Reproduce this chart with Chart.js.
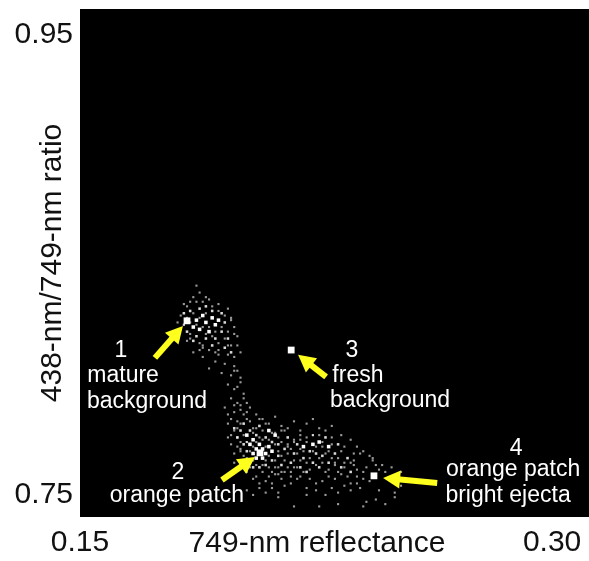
<!DOCTYPE html>
<html>
<head>
<meta charset="utf-8">
<style>
  html, body { margin: 0; padding: 0; background: #fff; }
  canvas { display: block; }
</style>
</head>
<body>
<canvas id="chart" width="589" height="561"></canvas>
<script src="https://cdn.jsdelivr.net/npm/chart.js@4/dist/chart.umd.min.js"></script>
<script>
// axis values
const xTickValues = [0.15, 0.30];
const yTickValues = [0.75, 0.95];

// four labelled spots
const spotX = [0.1840, 0.2072, 0.2171, 0.2434];
const spotY = [0.8257, 0.7683, 0.8130, 0.7583];

// brightest bins
const brightX = [0.187,0.189,0.190,0.192,0.186,0.188,0.191,0.193,0.194,0.207,0.206,0.208,0.205,0.209,0.208,0.206,0.210,0.204,0.211,0.205,0.203,0.212,0.210,0.221,0.224,0.226,0.229];
const brightY = [0.826,0.828,0.825,0.827,0.823,0.822,0.821,0.824,0.826,0.772,0.770,0.770,0.768,0.768,0.766,0.766,0.771,0.772,0.769,0.774,0.776,0.776,0.778,0.771,0.772,0.773,0.771];

// medium bins
const midX = [0.183,0.185,0.188,0.190,0.192,0.195,0.196,0.184,0.187,0.190,0.193,0.195,0.197,0.186,0.192,0.196,0.198,0.199,0.200,0.201,0.202,0.202,0.203,0.204,0.204,0.205,0.206,0.207,0.207,0.209,0.209,0.211,0.211,0.213,0.213,0.214,0.215,0.216,0.217,0.218,0.219,0.220,0.221,0.222,0.223,0.224,0.225,0.226,0.227,0.228,0.229,0.231,0.232,0.233,0.235,0.236];
const midY = [0.829,0.830,0.831,0.832,0.830,0.829,0.825,0.821,0.819,0.818,0.818,0.821,0.818,0.817,0.815,0.814,0.812,0.779,0.775,0.778,0.772,0.781,0.769,0.765,0.778,0.762,0.776,0.762,0.780,0.763,0.775,0.765,0.773,0.767,0.772,0.763,0.770,0.775,0.764,0.768,0.772,0.762,0.766,0.760,0.769,0.764,0.768,0.762,0.767,0.775,0.764,0.768,0.772,0.762,0.766,0.760];

// faint bins
const dimX = [0.187,0.188,0.186,0.190,0.185,0.189,0.183,0.184,0.187,0.191,0.194,0.182,0.181,0.183,0.185,0.189,0.193,0.197,0.198,0.199,0.200,0.182,0.184,0.188,0.191,0.194,0.197,0.199,0.186,0.189,0.193,0.196,0.199,0.201,0.191,0.195,0.198,0.200,0.197,0.199,0.201,0.198,0.200,0.202,0.196,0.199,0.201,0.203,0.198,0.200,0.202,0.204,0.199,0.201,0.203,0.197,0.200,0.202,0.204,0.206,0.198,0.199,0.201,0.203,0.205,0.207,0.209,0.197,0.200,0.202,0.204,0.206,0.208,0.210,0.212,0.214,0.199,0.201,0.203,0.205,0.207,0.209,0.211,0.213,0.215,0.217,0.203,0.205,0.207,0.209,0.211,0.213,0.215,0.217,0.219,0.208,0.210,0.212,0.214,0.216,0.218,0.220,0.222,0.224,0.212,0.214,0.216,0.218,0.220,0.222,0.224,0.226,0.228,0.230,0.218,0.220,0.223,0.225,0.227,0.229,0.231,0.233,0.235,0.237,0.222,0.225,0.228,0.230,0.232,0.234,0.236,0.238,0.240,0.227,0.230,0.233,0.236,0.238,0.240,0.242,0.244,0.231,0.234,0.237,0.239,0.241,0.243,0.245,0.247,0.236,0.239,0.242,0.245,0.248,0.250,0.252,0.238,0.241,0.244,0.247,0.250,0.240,0.246,0.249,0.252,0.222,0.226,0.232,0.218,0.213];
const dimY = [0.841,0.838,0.836,0.836,0.834,0.834,0.833,0.832,0.834,0.835,0.833,0.828,0.825,0.824,0.820,0.815,0.812,0.831,0.827,0.823,0.819,0.822,0.817,0.813,0.813,0.811,0.815,0.810,0.812,0.810,0.808,0.807,0.806,0.812,0.805,0.803,0.802,0.804,0.798,0.796,0.799,0.792,0.790,0.794,0.788,0.786,0.787,0.790,0.783,0.782,0.785,0.788,0.778,0.781,0.783,0.781,0.775,0.776,0.782,0.785,0.772,0.768,0.770,0.773,0.779,0.783,0.781,0.775,0.771,0.767,0.762,0.758,0.760,0.758,0.762,0.757,0.764,0.762,0.760,0.757,0.755,0.756,0.755,0.759,0.760,0.758,0.752,0.750,0.753,0.751,0.753,0.751,0.754,0.755,0.757,0.783,0.781,0.784,0.780,0.779,0.782,0.778,0.781,0.783,0.777,0.778,0.771,0.774,0.776,0.775,0.776,0.779,0.778,0.780,0.762,0.758,0.757,0.755,0.756,0.758,0.757,0.759,0.758,0.763,0.753,0.752,0.750,0.753,0.751,0.754,0.752,0.755,0.757,0.773,0.775,0.776,0.774,0.771,0.769,0.767,0.763,0.764,0.762,0.765,0.768,0.762,0.765,0.761,0.760,0.755,0.753,0.756,0.752,0.757,0.751,0.760,0.758,0.747,0.748,0.746,0.749,0.745,0.763,0.762,0.754,0.750,0.745,0.746,0.745,0.749,0.748];

// more bins in the dense part of both clusters
const fillX = [0.184,0.186,0.188,0.190,0.192,0.194,0.196,0.198,0.183,0.185,0.187,0.189,0.191,0.193,0.195,0.197,0.199,0.185,0.188,0.190,0.192,0.194,0.196,0.198,0.200,0.189,0.194,0.197,0.199,0.201,0.200,0.202,0.201,0.203,0.197,0.199,0.198,0.200,0.201,0.201,0.203,0.203,0.204,0.205,0.205,0.205,0.206,0.206,0.206,0.207,0.207,0.208,0.208,0.208,0.209,0.209,0.210,0.210,0.210,0.211,0.211,0.212,0.212,0.212,0.213,0.213,0.213,0.214,0.214,0.214,0.215,0.215,0.216,0.216,0.216,0.217,0.217,0.218,0.218,0.219,0.219,0.220,0.220,0.220,0.221,0.221,0.222,0.222,0.223,0.223,0.224,0.224,0.225,0.225,0.226,0.226,0.227,0.227,0.228,0.228,0.229,0.229,0.230,0.230,0.231,0.232,0.232,0.233,0.234,0.234,0.236,0.237,0.238,0.240,0.243];
const fillY = [0.827,0.829,0.827,0.829,0.832,0.830,0.828,0.826,0.824,0.825,0.824,0.823,0.823,0.821,0.823,0.821,0.820,0.818,0.816,0.820,0.819,0.816,0.818,0.815,0.815,0.814,0.813,0.811,0.804,0.801,0.797,0.792,0.789,0.786,0.785,0.789,0.776,0.779,0.773,0.769,0.773,0.766,0.769,0.765,0.771,0.777,0.773,0.763,0.779,0.768,0.775,0.763,0.774,0.778,0.771,0.765,0.762,0.774,0.767,0.760,0.777,0.772,0.765,0.759,0.762,0.775,0.769,0.767,0.773,0.760,0.765,0.778,0.762,0.768,0.772,0.760,0.770,0.765,0.773,0.762,0.768,0.765,0.770,0.774,0.760,0.769,0.764,0.773,0.761,0.766,0.769,0.776,0.763,0.771,0.766,0.776,0.764,0.771,0.760,0.768,0.761,0.769,0.766,0.772,0.763,0.760,0.766,0.769,0.764,0.771,0.764,0.768,0.761,0.760,0.766];

// annotation text and arrows, in chart units
const noteTexts = ["1","mature","background","2","orange patch","3","fresh","background","4","orange patch","bright ejecta"];
const noteX = [0.1630,0.1637,0.1713,0.1811,0.1808,0.2364,0.2383,0.2485,0.2886,0.2876,0.2860];
const noteY = [0.8126,0.8017,0.7904,0.7596,0.7496,0.8126,0.8017,0.7909,0.7700,0.7609,0.7496];
const arrowTailX = [0.1738,0.1951,0.2282,0.2635];
const arrowTailY = [0.8096,0.7565,0.8013,0.7552];
const arrowHeadX = [0.1827,0.2056,0.2193,0.2463];
const arrowHeadY = [0.8235,0.7665,0.8109,0.7574];

const xTitle = "749-nm reflectance";
const yTitle = "438-nm/749-nm ratio";
const fontName = '"Liberation Sans", Arial, sans-serif';

function toPoints(xs, ys) {
  return xs.map((x, i) => ({ x: x, y: ys[i] }));
}

function squares(xs, ys, radius, color) {
  return {
    data: toPoints(xs, ys),
    pointStyle: "rect",
    pointRadius: radius,
    pointBorderWidth: 0,
    backgroundColor: color
  };
}

// black plot background, runs out to the canvas edge
const plotBackground = {
  id: "plotBackground",
  beforeDraw(chart) {
    const a = chart.chartArea;
    chart.ctx.fillStyle = "#000";
    chart.ctx.fillRect(a.left, a.top, chart.width - a.left, a.bottom - a.top);
  },
  // the source image is a soft scan, so the bins get a small blur
  beforeDatasetsDraw(chart) {
    chart.ctx.filter = "blur(0.6px)";
  }
};

// yellow arrows, white notes, x axis title
const notes = {
  id: "notes",
  afterDatasetsDraw(chart) {
    const ctx = chart.ctx;
    const sx = chart.scales.x;
    const sy = chart.scales.y;
    ctx.filter = "none";
    ctx.save();

    ctx.strokeStyle = "#ffff1e";
    ctx.fillStyle = "#ffff1e";
    ctx.lineWidth = 6;
    arrowTailX.forEach((_, i) => {
      const x0 = sx.getPixelForValue(arrowTailX[i]);
      const y0 = sy.getPixelForValue(arrowTailY[i]);
      const x1 = sx.getPixelForValue(arrowHeadX[i]);
      const y1 = sy.getPixelForValue(arrowHeadY[i]);
      const ang = Math.atan2(y1 - y0, x1 - x0);
      ctx.beginPath();
      ctx.moveTo(x0, y0);
      ctx.lineTo(x1 - 12 * Math.cos(ang), y1 - 12 * Math.sin(ang));
      ctx.stroke();
      ctx.beginPath();
      ctx.moveTo(x1, y1);
      ctx.lineTo(x1 - 17 * Math.cos(ang) + 9 * Math.sin(ang), y1 - 17 * Math.sin(ang) - 9 * Math.cos(ang));
      ctx.lineTo(x1 - 17 * Math.cos(ang) - 9 * Math.sin(ang), y1 - 17 * Math.sin(ang) + 9 * Math.cos(ang));
      ctx.closePath();
      ctx.fill();
    });

    ctx.fillStyle = "#fff";
    ctx.font = "23px " + fontName;
    ctx.textAlign = "center";
    ctx.textBaseline = "middle";
    noteTexts.forEach((t, i) => {
      ctx.fillText(t, sx.getPixelForValue(noteX[i]), sy.getPixelForValue(noteY[i]));
    });

    ctx.fillStyle = "#111";
    ctx.font = "30px " + fontName;
    ctx.fillText(xTitle, 317, 544);
    ctx.restore();
  }
};

// keep the plot box out to the edges, labels may overhang it
function noOverhang(axis) {
  axis.paddingTop = 0;
  axis.paddingBottom = 0;
  axis.paddingLeft = 0;
  axis.paddingRight = 0;
}

new Chart(document.getElementById("chart"), {
  type: "scatter",
  data: {
    datasets: [
      squares(dimX, dimY, 1.5, "rgba(255,255,255,0.6)"),
      squares(fillX, fillY, 1.5, "rgba(255,255,255,0.6)"),
      squares(midX, midY, 1.8, "rgba(255,255,255,0.85)"),
      squares(brightX, brightY, 2.5, "#fff"),
      squares(spotX, spotY, 4.8, "#fff")
    ]
  },
  plugins: [plotBackground, notes],
  options: {
    responsive: false,
    animation: false,
    layout: { padding: { top: 9, right: 0, bottom: 0, left: 0 } },
    plugins: { legend: { display: false }, tooltip: { enabled: false } },
    scales: {
      x: {
        type: "linear",
        min: 0.15,
        max: 0.3102,
        grid: { display: false, drawTicks: false },
        border: { display: false },
        afterBuildTicks(axis) { axis.ticks = xTickValues.map(v => ({ value: v })); },
        afterFit(axis) { axis.height = 44; noOverhang(axis); },
        ticks: {
          color: "#111",
          padding: 8,
          maxRotation: 0,
          autoSkip: false,
          font: { family: fontName, size: 30 },
          callback: v => v.toFixed(2)
        }
      },
      y: {
        type: "linear",
        min: 0.7404,
        max: 0.9613,
        grid: { display: false, drawTicks: false },
        border: { display: false },
        afterBuildTicks(axis) { axis.ticks = yTickValues.map(v => ({ value: v })); },
        afterFit(axis) { axis.width = 80; noOverhang(axis); },
        title: {
          display: true,
          text: yTitle,
          color: "#111",
          padding: { top: 35, bottom: 0 },
          font: { family: fontName, size: 30 }
        },
        ticks: {
          color: "#111",
          padding: 7,
          autoSkip: false,
          font: { family: fontName, size: 30 },
          callback: v => v.toFixed(2)
        }
      }
    }
  }
});
</script>
</body>
</html>
